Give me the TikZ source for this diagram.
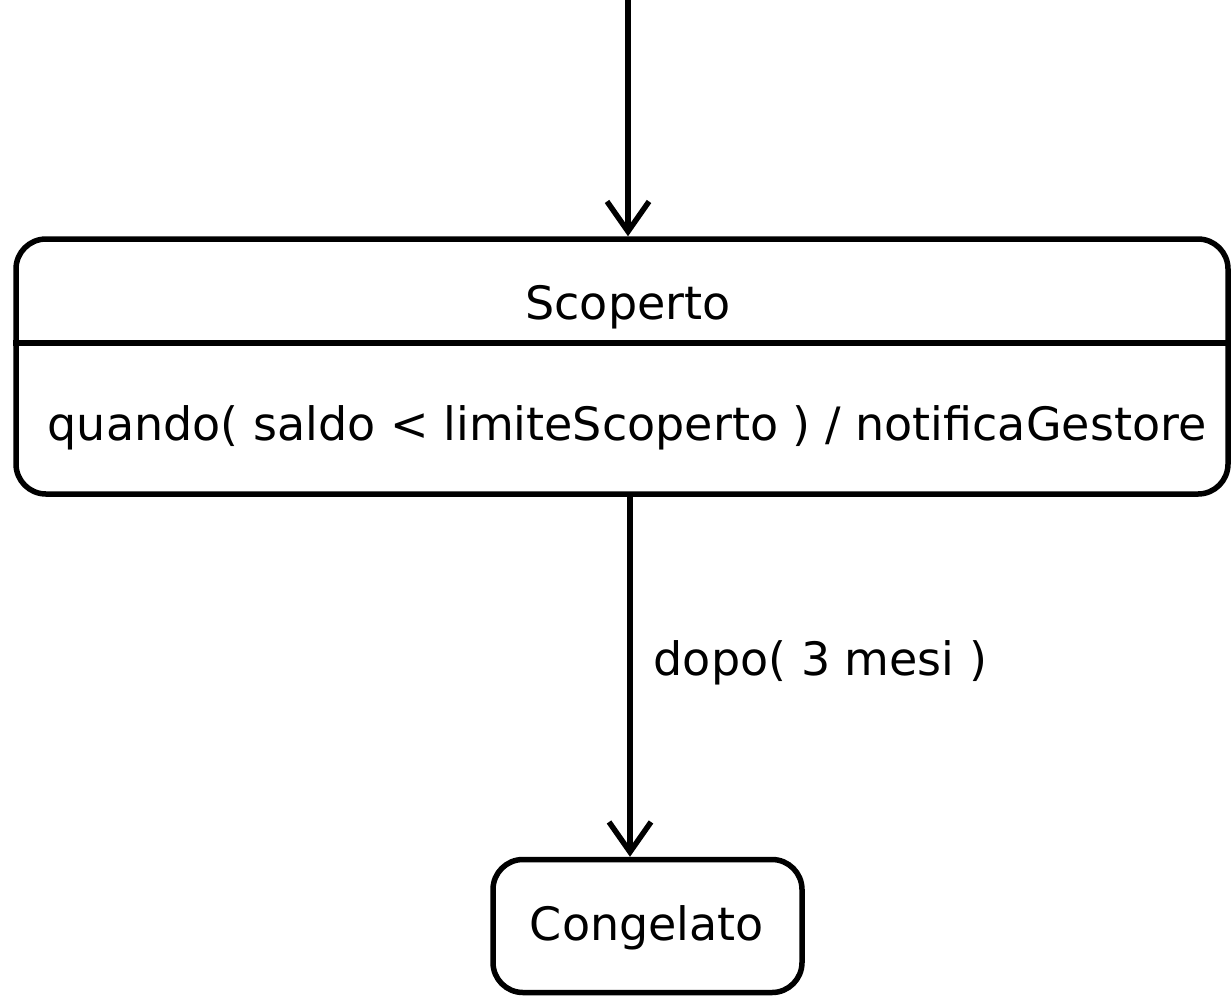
\documentclass[tikz,border=0pt]{standalone}
\usepackage{fontspec}
\setmainfont{DejaVu Sans}
\usetikzlibrary{arrows.meta}
\begin{document}
\begin{tikzpicture}[x=1pt,y=-1pt,
  statebox/.style={draw=black, line width=5.5pt, rounded corners=30pt, inner sep=0pt},
  lbl/.style={font=\fontsize{46}{52}\selectfont, inner sep=0pt},
  flow/.style={draw=black, line width=5.5pt, -{Straight Barb[length=30pt, width=42pt, line width=5.5pt]}}]
  \useasboundingbox (0,0) rectangle (1231,997);
  % composite state with an internal activity compartment
  \node[statebox, minimum width=1212pt, minimum height=255pt] (scoperto) at (622,366.5) {};
  \draw[line width=5.5pt] (scoperto.west |- 0,343) -- (scoperto.east |- 0,343);
  \node[lbl] (sname) at (628,307) {Scoperto};
  \node[lbl] (sact) at (627,428) {quando( saldo < limiteScoperto ) / notificaGestore};
  % final state of the transition
  \node[statebox, minimum width=309pt, minimum height=133pt] (congelato) at (647.5,926) {};
  \node[lbl] (cname) at (647,928) {Congelato};
  % entry point and transition
  \coordinate (start) at (628,0);
  \coordinate (exitpt) at (630,495);
  \draw[flow] (start) -- (start |- scoperto.north);
  \draw[flow] (exitpt) -- (exitpt |- congelato.north)
    node[lbl, anchor=west, pos=0.465, xshift=21pt] (guard) {dopo( 3 mesi )};
\end{tikzpicture}
\end{document}
